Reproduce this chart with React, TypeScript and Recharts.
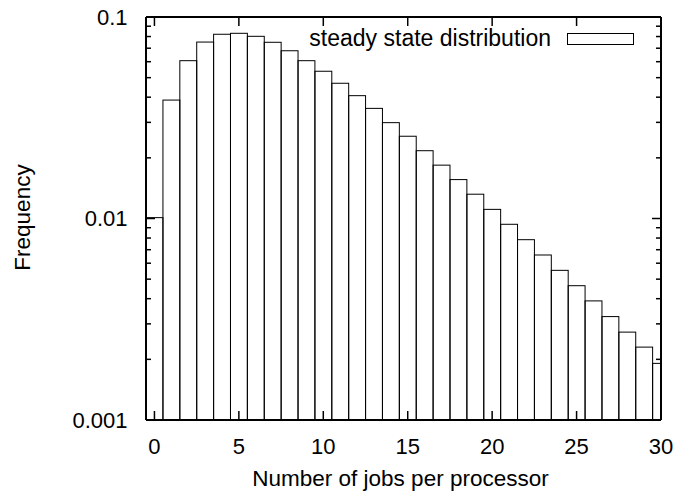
import React from 'react';
import { ComposedChart, Bar, Line, XAxis, YAxis, Legend, Label } from 'recharts';

// Number of jobs held by a processor (x) and how often that count occurs (y)
const jobCounts = [
  0, 1, 2, 3, 4, 5, 6, 7, 8, 9, 10, 11, 12, 13, 14, 15,
  16, 17, 18, 19, 20, 21, 22, 23, 24, 25, 26, 27, 28, 29, 30,
];
const frequencies = [
  0.0101, 0.0387, 0.0607, 0.0751, 0.0821, 0.083, 0.0802, 0.0749, 0.068, 0.0607,
  0.0538, 0.0469, 0.0407, 0.0352, 0.0299, 0.0256, 0.0217, 0.0184, 0.0156, 0.0132,
  0.0111, 0.00936, 0.00785, 0.00659, 0.00553, 0.00464, 0.0039, 0.00326, 0.00273,
  0.0023, 0.00191,
];

const xTicks = [0, 5, 10, 15, 20, 25, 30];
const xDomain: [number, number] = [-0.5, 30];
const yDecades = [0.001, 0.01, 0.1];
const yDecadeLabels = ['0.001', '0.01', '0.1'];
const yMinorSteps = [2, 3, 4, 5, 6, 7, 8, 9];

const seriesName = 'steady state distribution';
const xTitle = 'Number of jobs per processor';
const yTitle = 'Frequency';

const data = jobCounts.map((jobs, i) => ({ jobs, frequency: frequencies[i] }));

// Log axis ticks: each decade plus its minor steps
const yTicks: number[] = [];
yDecades.forEach((d, i) => {
  yTicks.push(d);
  if (i < yDecades.length - 1) yMinorSteps.forEach((m) => yTicks.push(+(d * m).toPrecision(3)));
});

const W = 679;
const H = 493;
const MARGIN = { top: 16, right: 17, bottom: 0, left: 0 };
const Y_AXIS_W = 146;
const X_AXIS_H = 73;
const EDGE_AXIS = 1; // thin top / right axes that only carry the mirrored ticks
const PLOT_W = W - MARGIN.left - MARGIN.right - Y_AXIS_W - EDGE_AXIS;
const BAR_W = PLOT_W / (xDomain[1] - xDomain[0]);

const FONT = '"Liberation Sans", Arial, Helvetica, sans-serif';
const FS_TICK = 22;
const FS_TITLE = 22.5;
const FS_KEY = 23;
const MAJOR = 9;
const MINOR = 5;
const TICK_W = 1.5;

const isDecade = (v: number) => Math.abs(Math.log10(v) - Math.round(Math.log10(v))) < 1e-6;
const decadeLabel = (v: number) => {
  const i = yDecades.findIndex((d) => Math.abs(d - v) < d * 1e-6);
  return i >= 0 ? yDecadeLabels[i] : '';
};

// Histogram box: one full unit wide, centred on its job count; unfilled so axis ticks stay visible
const HistBox = (props: any) => {
  const { x, y, width, height } = props;
  if (height == null || isNaN(height)) return null;
  const cx = x + width / 2;
  return (
    <rect
      x={cx - BAR_W / 2}
      y={y}
      width={BAR_W}
      height={height}
      fill="none"
      stroke="#000"
      strokeWidth={1}
    />
  );
};

const BottomTick = (props: any) => {
  const { x, y, payload } = props;
  return (
    <g>
      <line x1={x} x2={x} y1={y} y2={y - MAJOR} stroke="#000" strokeWidth={TICK_W} />
      <text x={x} y={y + 34} textAnchor="middle" fontSize={FS_TICK} fontFamily={FONT} fill="#000">
        {payload.value}
      </text>
    </g>
  );
};

const TopTick = (props: any) => {
  const { x, y } = props;
  return <line x1={x} x2={x} y1={y} y2={y + MAJOR} stroke="#000" strokeWidth={TICK_W} />;
};

const LeftTick = (props: any) => {
  const { x, y, payload } = props;
  const major = isDecade(payload.value);
  return (
    <g>
      <line x1={x} x2={x + (major ? MAJOR : MINOR)} y1={y} y2={y} stroke="#000" strokeWidth={TICK_W} />
      {major && (
        <text x={x - 18.5} y={y} dy="0.36em" textAnchor="end" fontSize={FS_TICK} fontFamily={FONT} fill="#000">
          {decadeLabel(payload.value)}
        </text>
      )}
    </g>
  );
};

const RightTick = (props: any) => {
  const { x, y, payload } = props;
  const major = isDecade(payload.value);
  return <line x1={x} x2={x - (major ? MAJOR : MINOR)} y1={y} y2={y} stroke="#000" strokeWidth={TICK_W} />;
};

const LegendContent = (props: any) => {
  const item = (props.payload || []).find((p: any) => p.type !== 'none');
  const label = item ? item.value : seriesName;
  return (
    <div style={{ position: 'relative', width: W, height: 0 }}>
      <span
        style={{
          position: 'absolute',
          right: W - 551,
          top: 26.5,
          fontSize: FS_KEY,
          lineHeight: `${FS_KEY}px`,
          fontFamily: FONT,
          whiteSpace: 'nowrap',
          color: '#000',
        }}
      >
        {label}
      </span>
      <span
        style={{
          position: 'absolute',
          left: 567,
          top: 33,
          width: 67,
          height: 12,
          border: '1px solid #000',
          boxSizing: 'border-box',
          background: '#fff',
        }}
      />
    </div>
  );
};

const axisLine = { stroke: '#000', strokeWidth: 2 };

export default function App() {
  return (
    <div style={{ position: 'absolute', left: 0, top: 0, width: W, height: H, background: '#fff' }}>
      <ComposedChart width={W} height={H} data={data} margin={MARGIN} barCategoryGap={0} barGap={0}>
        <Bar
          dataKey="frequency"
          name={seriesName}
          fill="none"
          stroke="#000"
          shape={<HistBox />}
          isAnimationActive={false}
        />
        <Line
          xAxisId="top"
          yAxisId="right"
          dataKey="frequency"
          stroke="none"
          dot={false}
          activeDot={false}
          legendType="none"
          isAnimationActive={false}
        />
        <XAxis
          dataKey="jobs"
          type="number"
          domain={xDomain}
          ticks={xTicks}
          allowDataOverflow
          height={X_AXIS_H}
          tickLine={false}
          tickSize={0}
          tickMargin={0}
          tick={<BottomTick />}
          axisLine={axisLine}
          interval={0}
        >
          <Label
            content={(p: any) => {
              const vb = p.viewBox;
              return (
                <text
                  x={vb.x + vb.width / 2 - 3}
                  y={486}
                  textAnchor="middle"
                  fontSize={FS_TITLE}
                  fontFamily={FONT}
                  fill="#000"
                >
                  {xTitle}
                </text>
              );
            }}
          />
        </XAxis>
        <XAxis
          xAxisId="top"
          orientation="top"
          dataKey="jobs"
          type="number"
          domain={xDomain}
          ticks={xTicks}
          allowDataOverflow
          height={EDGE_AXIS}
          tickLine={false}
          tickSize={0}
          tickMargin={0}
          tick={<TopTick />}
          axisLine={axisLine}
          interval={0}
        />
        <YAxis
          type="number"
          scale="log"
          domain={[yDecades[0], yDecades[yDecades.length - 1]]}
          ticks={yTicks}
          allowDataOverflow
          width={Y_AXIS_W}
          tickLine={false}
          tickSize={0}
          tickMargin={0}
          tick={<LeftTick />}
          axisLine={axisLine}
          interval={0}
        >
          <Label
            content={(p: any) => {
              const vb = p.viewBox;
              const cy = vb.y + vb.height / 2 - 1;
              return (
                <text
                  x={30}
                  y={cy}
                  textAnchor="middle"
                  fontSize={FS_TITLE}
                  fontFamily={FONT}
                  fill="#000"
                  transform={`rotate(-90, 30, ${cy})`}
                >
                  {yTitle}
                </text>
              );
            }}
          />
        </YAxis>
        <YAxis
          yAxisId="right"
          orientation="right"
          type="number"
          scale="log"
          domain={[yDecades[0], yDecades[yDecades.length - 1]]}
          ticks={yTicks}
          allowDataOverflow
          width={EDGE_AXIS}
          tickLine={false}
          tickSize={0}
          tickMargin={0}
          tick={<RightTick />}
          axisLine={axisLine}
          interval={0}
        />
        <Legend
          layout="vertical"
          align="center"
          verticalAlign="middle"
          wrapperStyle={{ top: 0, left: 0, width: W, height: 0 }}
          content={<LegendContent />}
        />
      </ComposedChart>
    </div>
  );
}
